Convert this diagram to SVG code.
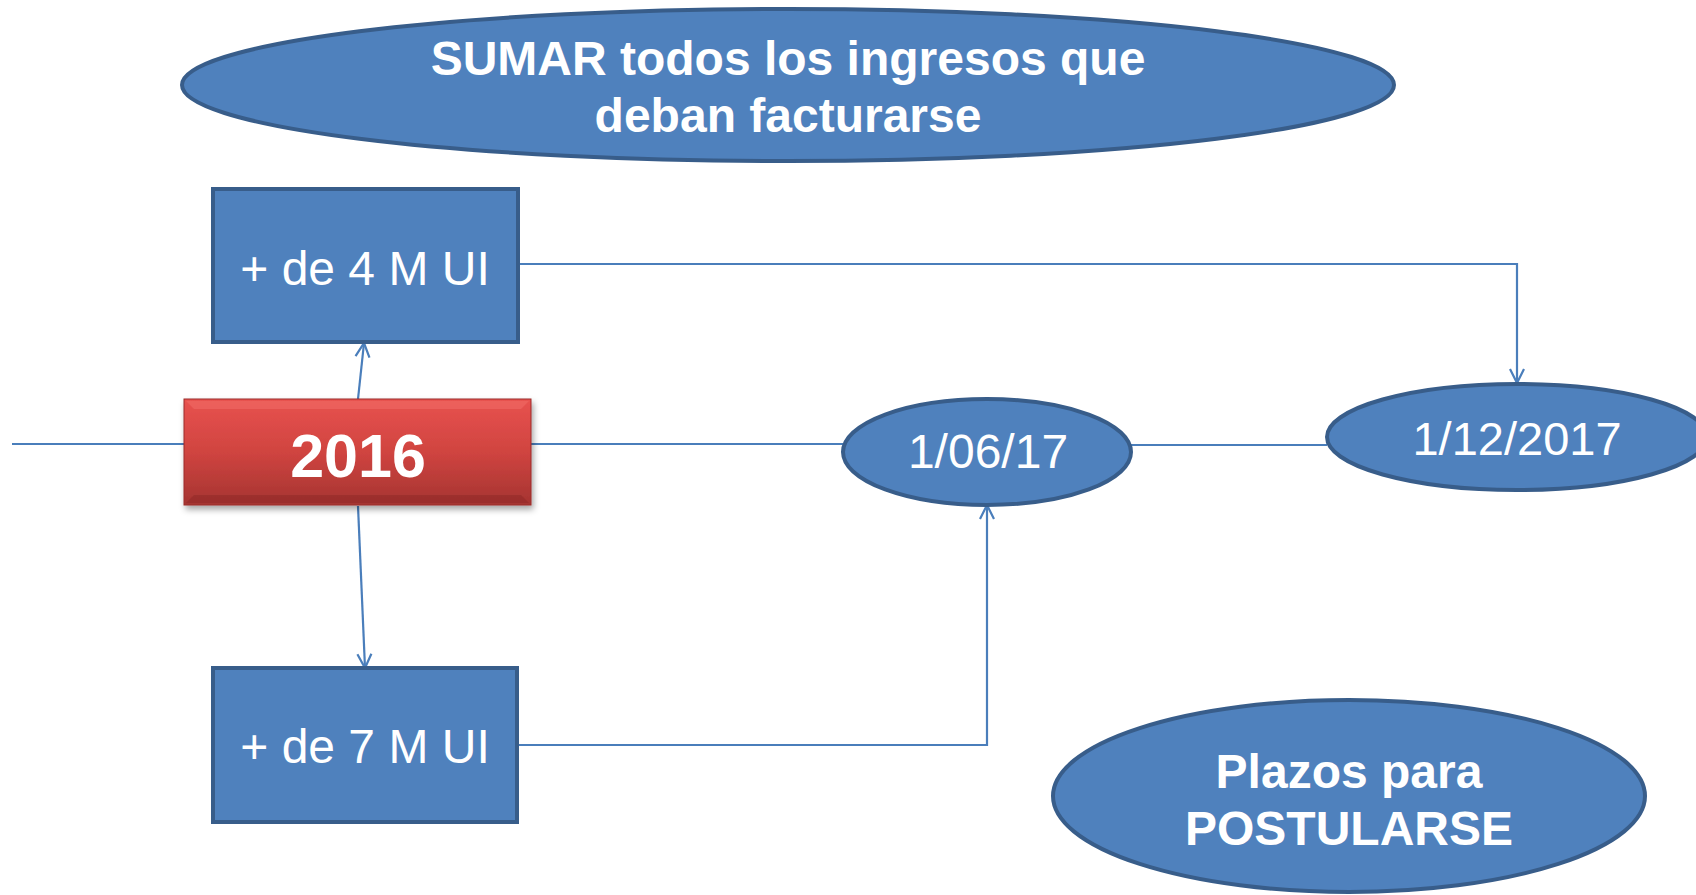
<svg xmlns="http://www.w3.org/2000/svg" width="1696" height="895" viewBox="0 0 1696 895">
<defs>
<style>
.conn{fill:none;stroke:#4A7EBB;stroke-width:2.2}
.node{fill:#4F81BD;stroke:#385D8A;stroke-width:4}
.t{font-family:"Liberation Sans",Arial,sans-serif;fill:#FFFFFF;text-anchor:middle}
.b{font-weight:bold}
</style>
<marker id="arr" markerUnits="userSpaceOnUse" markerWidth="20" markerHeight="20" viewBox="0 0 20 20" refX="16" refY="10" orient="auto">
<path d="M2,3 L16,10 L2,17" fill="none" stroke="#4A7EBB" stroke-width="2.2"/>
</marker>
<linearGradient id="red" x1="0" y1="0" x2="0" y2="1">
<stop offset="0" stop-color="#E8524F"/>
<stop offset="0.5" stop-color="#D04440"/>
<stop offset="1" stop-color="#A53431"/>
</linearGradient>
<filter id="sh" x="-10%" y="-10%" width="120%" height="130%">
<feDropShadow dx="2" dy="4" stdDeviation="3" flood-color="#000" flood-opacity="0.35"/>
</filter>
</defs>
<rect width="1696" height="895" fill="#FFFFFF"/>
<g id="connectors">
<path class="conn" d="M12,444 L843,444"/>
<path class="conn" d="M1131,445 L1327,445"/>
<path class="conn" d="M358,399 L364,343" marker-end="url(#arr)"/>
<path class="conn" d="M358,506 L365,668" marker-end="url(#arr)"/>
<path class="conn" d="M518,264 H1517 V383" marker-end="url(#arr)"/>
<path class="conn" d="M517,745 H987 V505" marker-end="url(#arr)"/>
</g>
<g id="sumar">
<ellipse class="node" cx="788" cy="85" rx="606" ry="76"/>
<text class="t b" x="788" y="75" font-size="48">SUMAR todos los ingresos que</text>
<text class="t b" x="788" y="132" font-size="48">deban facturarse</text>
</g>
<g id="box4m">
<rect class="node" x="213" y="189" width="305" height="153"/>
<text class="t" x="365" y="285" font-size="48">+ de 4 M UI</text>
</g>
<g id="y2016">
<rect x="184" y="399" width="347" height="106" fill="url(#red)" stroke="#9B2D2A" stroke-width="1" filter="url(#sh)"/>
<path d="M186,401 L529,401 L521,409 L194,409 Z" fill="#F06A66" opacity="0.6"/>
<path d="M186,503 L529,503 L521,495 L194,495 Z" fill="#8E2826" opacity="0.5"/>
<text class="t b" x="358" y="477" font-size="61">2016</text>
</g>
<g id="box7m">
<rect class="node" x="213" y="668" width="304" height="154"/>
<text class="t" x="365" y="763" font-size="48">+ de 7 M UI</text>
</g>
<g id="d0617">
<ellipse class="node" cx="987" cy="452" rx="144" ry="53"/>
<text class="t" x="988" y="468" font-size="48">1/06/17</text>
</g>
<g id="d1217">
<ellipse class="node" cx="1517" cy="437" rx="190" ry="53"/>
<text class="t" x="1517" y="455" font-size="47">1/12/2017</text>
</g>
<g id="plazos">
<ellipse class="node" cx="1349" cy="796" rx="296" ry="96"/>
<text class="t b" x="1349" y="788" font-size="48">Plazos para</text>
<text class="t b" x="1349" y="845" font-size="48">POSTULARSE</text>
</g>
</svg>
